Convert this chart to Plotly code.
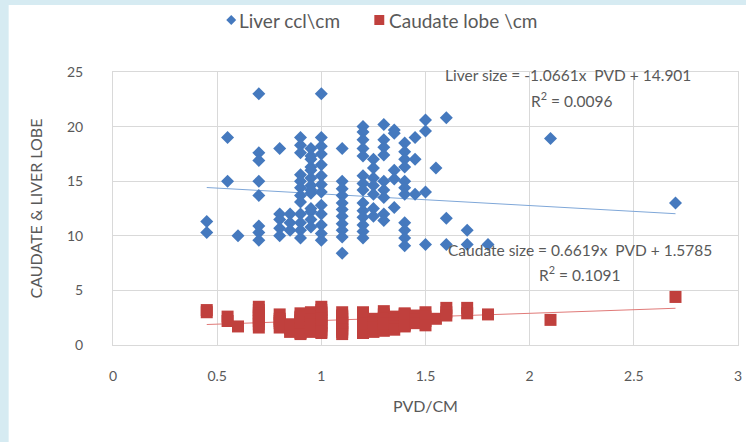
import plotly.graph_objects as go

# Paired measurements per patient: portal vein diameter (cm), liver size, caudate lobe size
pvd_groups = [0.45, 0.55, 0.6, 0.7, 0.8, 0.85, 0.9, 0.95, 1.0, 1.1, 1.2, 1.25,
              1.3, 1.35, 1.4, 1.45, 1.5, 1.55, 1.6, 1.7, 1.8, 2.1, 2.7]

liver_groups = [
    [11.3, 10.3],
    [19.0, 15.0],
    [10.0],
    [23.0, 17.6, 16.9, 15.0, 13.7, 10.9, 10.3, 9.6],
    [18.0, 12.0, 11.5, 10.7, 10.0],
    [12.0, 11.2, 10.5],
    [19.0, 18.3, 17.6, 15.6, 15.0, 14.4, 13.7, 13.1, 12.0, 11.2, 10.5, 9.8],
    [18.0, 17.3, 16.3, 15.3, 14.6, 13.9, 12.2, 11.5, 10.8, 17.0, 16.0, 14.2, 12.5],
    [23.0, 19.0, 18.2, 17.5, 16.5, 15.5, 14.7, 14.0, 12.8, 12.0, 11.0, 10.2, 9.6],
    [18.0, 15.0, 14.3, 13.7, 13.0, 12.4, 11.8, 11.1, 10.5, 9.9, 8.4],
    [20.0, 19.5, 18.8, 18.0, 17.3, 15.5, 14.8, 14.2, 13.0, 12.3, 11.7, 11.0, 10.4, 9.8],
    [17.0, 16.2, 15.3, 14.6, 13.8, 12.5, 11.8],
    [20.2, 18.8, 18.1, 17.4, 15.0, 14.2, 13.5, 12.0, 11.4],
    [19.7, 19.4, 16.0, 15.2, 12.6],
    [18.5, 17.7, 17.0, 16.3, 15.0, 14.4, 13.8, 11.2, 10.5, 9.8, 9.1],
    [19.0, 17.0, 13.8],
    [20.6, 19.6, 14.0, 9.2],
    [16.2],
    [20.8, 11.6, 9.2],
    [10.5, 9.2],
    [9.2],
    [18.9],
    [13.0],
]

caudate_groups = [
    [3.2, 3.0],
    [2.6, 2.2],
    [1.7],
    [3.5, 3.2, 2.9, 2.5, 2.2, 1.9, 1.6, 2.7],
    [2.8, 2.4, 2.0, 1.6, 2.2],
    [1.5, 1.2, 1.9],
    [2.9, 2.6, 2.3, 2.0, 1.7, 1.4, 1.1, 2.5, 1.9, 2.2, 1.5, 1.0],
    [3.0, 2.7, 2.4, 2.1, 1.8, 1.5, 1.2, 2.6, 2.0, 1.6, 2.8, 2.3, 1.9],
    [3.5, 3.2, 2.9, 2.6, 2.3, 2.0, 1.7, 1.4, 1.1, 3.0, 2.4, 1.8, 1.2],
    [3.0, 2.7, 2.4, 2.1, 1.8, 1.5, 1.2, 2.6, 2.0, 1.4, 1.0],
    [3.0, 2.7, 2.4, 2.1, 1.8, 1.5, 1.2, 2.9, 2.3, 1.9, 1.6, 1.1, 2.5, 2.0],
    [2.4, 2.1, 1.8, 1.5, 1.2, 2.0, 1.6],
    [3.1, 2.8, 2.5, 2.2, 1.9, 1.6, 1.3, 2.4, 2.0],
    [2.6, 2.3, 2.0, 1.7, 1.4],
    [2.9, 2.6, 2.3, 2.0, 1.7, 2.5, 2.1, 1.9, 2.8, 2.2, 1.8],
    [2.7, 2.3, 2.0],
    [3.0, 2.6, 2.2, 1.8],
    [2.4],
    [3.4, 3.0, 2.7],
    [3.4, 2.9],
    [2.8],
    [2.3],
    [4.4],
]

series_names = ["Liver ccl\\cm", "Caudate lobe \\cm"]

# Linear trendline coefficients (slope, intercept) and R squared
liver_fit = (-1.0661, 14.901, 0.0096)
caudate_fit = (0.6619, 1.5785, 0.1091)

x_ticks = [0, 0.5, 1, 1.5, 2, 2.5, 3]
y_ticks = [0, 5, 10, 15, 20, 25]

# Flatten the grouped columns into per-patient lists
pvd, liver, caudate = [], [], []
for x, lv, cd in zip(pvd_groups, liver_groups, caudate_groups):
    for a, b in zip(lv, cd):
        pvd.append(x)
        liver.append(a)
        caudate.append(b)

BLUE = "#4579BE"
RED = "#C0403D"
TXT = "#595959"
GRID = "#D9D9D9"
FONT = "Lato, Liberation Sans, sans-serif"

x_lo, x_hi = min(pvd), max(pvd)

fig = go.Figure()

fig.add_trace(go.Scatter(
    x=[x_lo, x_hi], y=[liver_fit[0] * x_lo + liver_fit[1], liver_fit[0] * x_hi + liver_fit[1]],
    mode="lines", line=dict(color="#7FA7D8", width=1), showlegend=False, hoverinfo="skip"))
fig.add_trace(go.Scatter(
    x=[x_lo, x_hi], y=[caudate_fit[0] * x_lo + caudate_fit[1], caudate_fit[0] * x_hi + caudate_fit[1]],
    mode="lines", line=dict(color="#E07A78", width=1), showlegend=False, hoverinfo="skip"))

fig.add_trace(go.Scatter(
    x=pvd, y=liver, mode="markers", name=series_names[0], showlegend=False,
    marker=dict(symbol="diamond", size=10, color=BLUE)))
fig.add_trace(go.Scatter(
    x=pvd, y=caudate, mode="markers", name=series_names[1], showlegend=False,
    marker=dict(symbol="square", size=12, color=RED)))

L, R, T, B = 113, 4, 72, 97
W, H = 746, 442
pw, ph = W - L - R, H - T - B


def px_x(p):
    return (p - L) / pw


def px_y(p):
    return (H - B - p) / ph


annos = [
    (571, 75, f"Liver size = {liver_fit[0]:.4f}x  PVD + {liver_fit[1]:.3f}"),
    (575, 99, f"R<sup>2</sup> = {liver_fit[2]:.4f}"),
    (583, 250, f"Caudate size = {caudate_fit[0]:.4f}x  PVD + {caudate_fit[1]:.4f}"),
    (583, 273, f"R<sup>2</sup> = {caudate_fit[2]:.4f}"),
]
annotations = [
    dict(x=px_x(ax), y=px_y(ay), xref="paper", yref="paper", text=t, showarrow=False,
         xanchor="center", yanchor="middle", font=dict(size=15.5, color=TXT, family=FONT))
    for ax, ay, t in annos
]

# Legend row drawn at the top of the chart
leg_y = 20
leg_items = [(232, BLUE, "diamond", series_names[0]), (381, RED, "square", series_names[1])]
shapes = [dict(type="rect", xref="paper", yref="paper",
               x0=px_x(8), x1=px_x(W + 5), y0=px_y(5), y1=px_y(H + 5),
               fillcolor="white", line=dict(width=0), layer="below")]
for cx, col, kind, name in leg_items:
    if kind == "diamond":
        d = 5
        path = (f"M {px_x(cx)},{px_y(leg_y - d)} L {px_x(cx + d)},{px_y(leg_y)} "
                f"L {px_x(cx)},{px_y(leg_y + d)} L {px_x(cx - d)},{px_y(leg_y)} Z")
        shapes.append(dict(type="path", xref="paper", yref="paper", path=path,
                           fillcolor=col, line=dict(width=0)))
        tx = cx + 6
    else:
        d = 5
        shapes.append(dict(type="rect", xref="paper", yref="paper",
                           x0=px_x(cx - d), x1=px_x(cx + d), y0=px_y(leg_y + d), y1=px_y(leg_y - d),
                           fillcolor=col, line=dict(width=0)))
        tx = cx + 8
    annotations.append(dict(x=px_x(tx), y=px_y(leg_y), xref="paper", yref="paper", text=name,
                            showarrow=False, xanchor="left", yanchor="middle",
                            font=dict(size=19, color=TXT, family=FONT)))

fig.update_layout(
    width=W, height=H,
    margin=dict(l=L, r=R, t=T, b=B, pad=0),
    paper_bgcolor="#D6EBF2",
    plot_bgcolor="white",
    font=dict(family=FONT, color=TXT, size=12),
    shapes=shapes,
    annotations=annotations,
    showlegend=False,
    xaxis=dict(range=[0, 3], tickvals=x_ticks, ticktext=[f"{v:g}" for v in x_ticks],
               showgrid=True, gridcolor=GRID, gridwidth=1, zeroline=False,
               showline=True, linecolor=GRID, mirror=True, ticks="",
               ticklabelstandoff=18, ticklabeloverflow="allow",
               tickfont=dict(size=14, color=TXT),
               title=dict(text="PVD/CM", font=dict(size=16, color=TXT), standoff=18)),
    yaxis=dict(range=[0, 25], tickvals=y_ticks,
               showgrid=True, gridcolor=GRID, gridwidth=1, zeroline=False,
               showline=True, linecolor=GRID, mirror=True, ticks="",
               ticklabelstandoff=26, tickfont=dict(size=14, color=TXT),
               title=dict(text="CAUDATE &amp; LIVER LOBE", font=dict(size=16, color=TXT), standoff=20)),
)

fig.write_html("out.html")
